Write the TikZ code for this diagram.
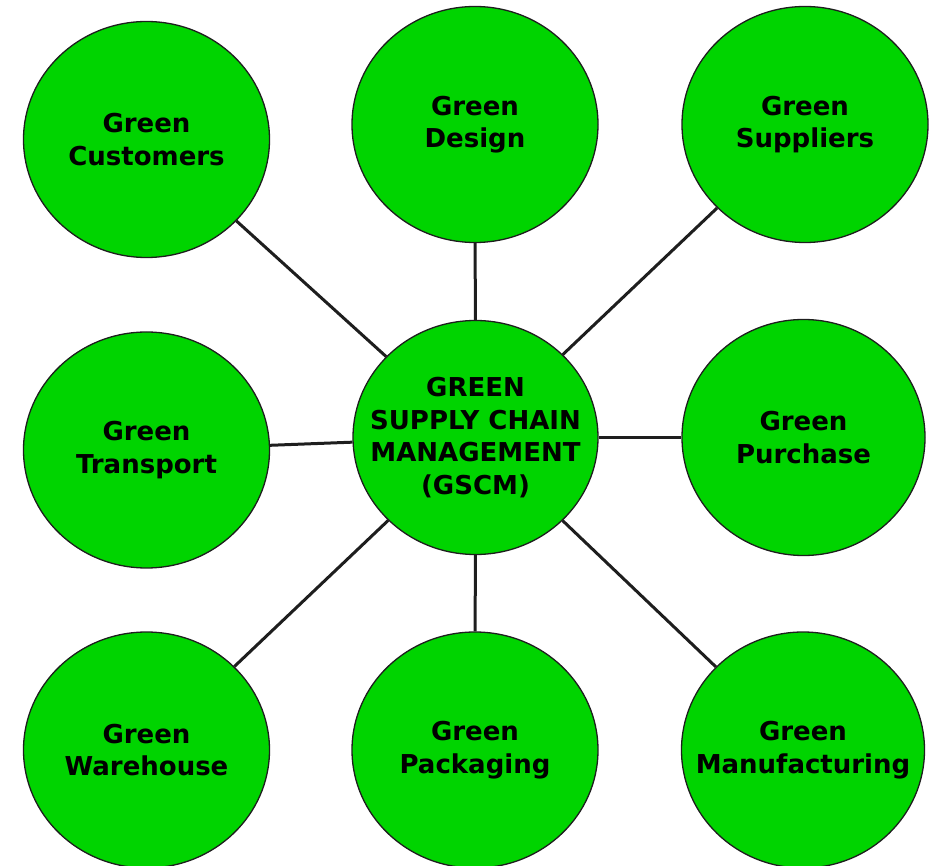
\documentclass[tikz,border=0pt]{standalone}
\usepackage{fontspec}
\setmainfont{DejaVu Sans}
\usetikzlibrary{shapes.geometric}
\definecolor{gfill}{RGB}{0,212,0}
\definecolor{gline}{RGB}{30,30,30}
\begin{document}
\begin{tikzpicture}[x=1pt,y=-1pt,
  bub/.style={ellipse, draw=gline, line width=1.3pt, fill=gfill, minimum width=246pt, minimum height=236pt, inner sep=0pt},
  txt/.style={align=center, font=\fontsize{26}{32.5}\selectfont\bfseries, text=black, inner sep=0pt},
  link/.style={draw=gline, line width=3pt}]
\useasboundingbox (0,0) rectangle (930,866);
\node[bub] (cust) at (146.5,139.5) {};
\node[bub] (des)  at (475,124.5) {};
\node[bub] (sup)  at (805,124.5) {};
\node[bub] (tra)  at (146.5,450) {};
\node[bub, minimum width=245pt, minimum height=234pt] (gscm) at (475.5,437.5) {};
\node[bub, minimum width=243pt] (pur)  at (803.5,437.5) {};
\node[bub] (war)  at (146.5,750) {};
\node[bub] (pac)  at (475,750) {};
\node[bub, minimum width=243pt] (man)  at (803,750) {};
\node[txt] (tcust) at (cust) {Green\\Customers};
\node[txt] (tdes)  at (des)  {Green\\Design};
\node[txt] (tsup)  at (sup)  {Green\\Suppliers};
\node[txt] (ttra)  at (tra)  {Green\\Transport};
\node[txt] (tgscm) at (gscm) {GREEN\\SUPPLY CHAIN\\MANAGEMENT\\(GSCM)};
\node[txt] (tpur)  at (pur)  {Green\\Purchase};
\node[txt] (twar)  at (war)  {Green\\Warehouse};
\node[txt] (tpac)  at (pac)  {Green\\Packaging};
\node[txt] (tman)  at (man)  {Green\\Manufacturing};
\foreach \n in {cust,des,sup,tra,pur,war,pac,man}
  \draw[link] (gscm) -- (\n);
\end{tikzpicture}
\end{document}
